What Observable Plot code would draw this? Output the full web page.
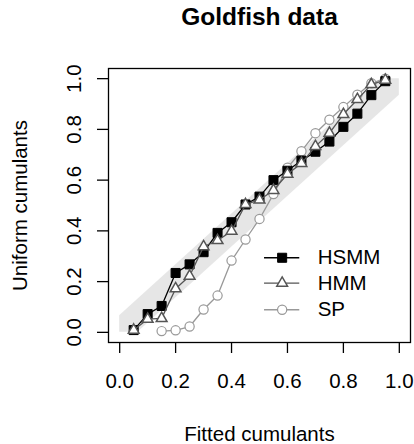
<!DOCTYPE html>
<html>
<head>
<meta charset="utf-8">
<script src="https://cdn.jsdelivr.net/npm/d3@7"></script>
<script src="https://cdn.jsdelivr.net/npm/@observablehq/plot@0.6"></script>
<style>
html, body { margin: 0; padding: 0; background: #fff; }
</style>
</head>
<body>
<div id="chart"></div>
<script>
// ---- data ----
const fitted = [0.05, 0.10, 0.15, 0.20, 0.25, 0.30, 0.35, 0.40, 0.45, 0.50,
                0.55, 0.60, 0.65, 0.70, 0.75, 0.80, 0.85, 0.90, 0.95];
const hsmm = [0.009, 0.072, 0.104, 0.234, 0.268, 0.316, 0.392, 0.434, 0.504, 0.535,
              0.600, 0.637, 0.677, 0.712, 0.752, 0.810, 0.862, 0.935, 0.990];
const hmm  = [0.009, 0.052, 0.055, 0.172, 0.222, 0.338, 0.362, 0.399, 0.504, 0.522,
              0.560, 0.624, 0.666, 0.733, 0.785, 0.859, 0.918, 0.977, 0.994];
const sp   = [null, null, 0.005, 0.008, 0.023, 0.090, 0.145, 0.283, 0.366, 0.447,
              0.545, 0.649, 0.714, 0.785, 0.838, 0.888, 0.937, 0.982, 1.000];
const seriesNames = ["HSMM", "HMM", "SP"];
const bandHalfWidth = 0.065;
const bandX = [0, bandHalfWidth, 1 - bandHalfWidth, 1];
const xTicks = [0, 0.2, 0.4, 0.6, 0.8, 1.0];
const yTicks = [0, 0.2, 0.4, 0.6, 0.8, 1.0];
const titleText = "Goldfish data";
const xLabel = "Fitted cumulants";
const yLabel = "Uniform cumulants";

// ---- styles ----
const styles = {
  HSMM: {stroke: "#000000", fill: "#000000", symbol: "square", r: 5.1, sw: 1.0},
  HMM:  {stroke: "#555555", fill: "#ffffff", symbol: "triangle", r: 4.0, sw: 1.5},
  SP:   {stroke: "#999999", fill: "#ffffff", symbol: "circle", r: 4.6, sw: 1.2}
};
const lineWidth = {HSMM: 1.3, HMM: 1.3, SP: 1.3};
// legend layout in data units (inside the plot, lower right)
const legendLayout = {x1: 0.518, x2: 0.644, xText: 0.708, rows: [0.294, 0.194, 0.089]};

// ---- build tables ----
const valuesBy = {HSMM: hsmm, HMM: hmm, SP: sp};
const seriesData = Object.fromEntries(seriesNames.map(name => [
  name,
  fitted.map((x, i) => ({x, y: valuesBy[name][i]})).filter(d => d.y != null)
]));
const band = bandX.map(x => ({x, lo: Math.max(x - bandHalfWidth, 0), hi: Math.min(x + bandHalfWidth, 1)}));
const legendRows = seriesNames.map((name, i) => ({
  name, y: legendLayout.rows[i],
  x1: legendLayout.x1, x2: legendLayout.x2,
  xm: (legendLayout.x1 + legendLayout.x2) / 2, xt: legendLayout.xText
}));

const fmt = d3.format(".1f");
const font = "'Liberation Sans', Arial, Helvetica, sans-serif";
const fs = 20.5;

const seriesOrder = ["SP", "HSMM", "HMM"];
const seriesMarks = seriesOrder.flatMap(name => {
  const s = styles[name];
  return [
    Plot.line(seriesData[name], {x: "x", y: "y", stroke: s.stroke, strokeWidth: lineWidth[name]}),
    Plot.dot(seriesData[name], {x: "x", y: "y", symbol: s.symbol, r: s.r, fill: s.fill, stroke: s.stroke, strokeWidth: s.sw})
  ];
});
const legendMarks = seriesNames.flatMap(name => {
  const s = styles[name];
  const row = legendRows.filter(d => d.name === name);
  return [
    Plot.ruleY(row, {y: "y", x1: "x1", x2: "x2", stroke: s.stroke, strokeWidth: lineWidth[name]}),
    Plot.dot(row, {x: "xm", y: "y", symbol: s.symbol, r: s.r, fill: s.fill, stroke: s.stroke, strokeWidth: s.sw}),
    Plot.text(row, {x: "xt", y: "y", text: "name", textAnchor: "start", lineAnchor: "middle", fontSize: fs, fill: "#000"})
  ];
});

const chart = Plot.plot({
  width: 414,
  height: 444,
  marginLeft: 108,
  marginRight: 4,
  marginTop: 68,
  marginBottom: 102,
  x: {domain: [-0.04, 1.04]},
  y: {domain: [-0.04, 1.04]},
  style: {fontFamily: font, fontSize: fs + "px", color: "#000", background: "#fff", overflow: "visible"},
  marks: [
    Plot.areaY(band, {x: "x", y1: "lo", y2: "hi", fill: "#e6e6e6"}),
    ...seriesMarks,
    ...legendMarks,
    Plot.frame({stroke: "#000", strokeWidth: 1.3}),
    Plot.axisX(xTicks, {
      tickSize: 11, tickPadding: 20, tickFormat: fmt, fontSize: fs, strokeWidth: 1.3,
      label: xLabel, labelAnchor: "center", labelOffset: 98, labelArrow: "none"
    }),
    Plot.axisY(yTicks, {
      tickSize: 11, tickPadding: 17, tickFormat: fmt, fontSize: fs, strokeWidth: 1.3, tickRotate: -90,
      label: yLabel, labelAnchor: "center", labelOffset: 96, labelArrow: "none"
    }),
    Plot.text([titleText], {frameAnchor: "top", dy: -44, lineAnchor: "bottom", fontWeight: "bold", fontSize: 24.5, fill: "#000"})
  ]
});
document.getElementById("chart").appendChild(chart);
</script>
</body>
</html>
